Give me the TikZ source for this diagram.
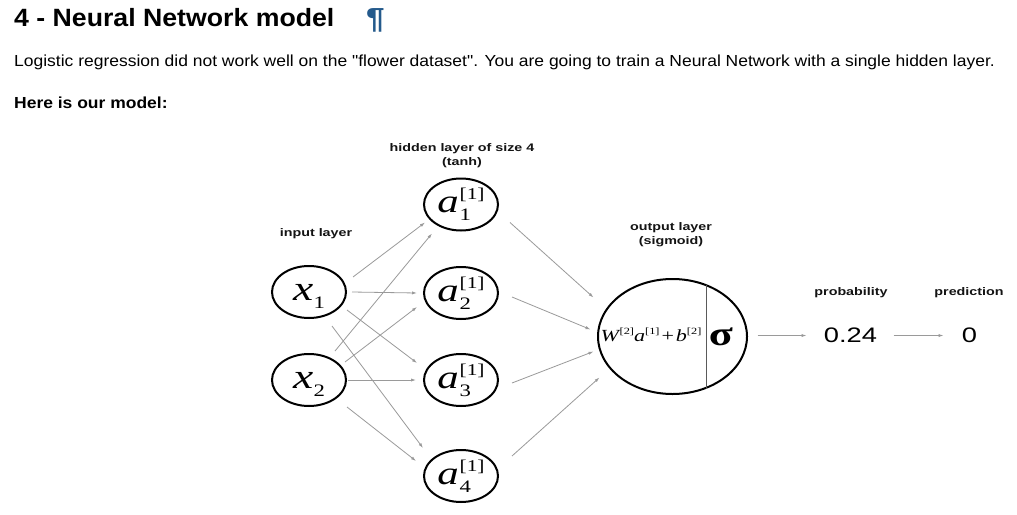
\documentclass[tikz,border=0pt]{standalone}
\usepackage{fontspec}
\setmainfont{Liberation Sans}
\newfontfamily\tms{Liberation Serif}
\usepackage{graphicx}
\usetikzlibrary{shapes.geometric,arrows.meta,calc}
\definecolor{pilcrow}{HTML}{245A8C}
\definecolor{arrowgray}{HTML}{9A9A9A}
\definecolor{divgray}{HTML}{5A5A5A}
\newcommand\dstretch[1]{\scalebox{1.3}[1]{#1}}
\newcommand\tstretch[1]{\scalebox{1.092}[1]{#1}}
\newsavebox\nsupbox
\newcommand\nsym[3]{%
  \sbox\nsupbox{\tms\fontsize{16.5}{16.5}\selectfont #2}%
  \dstretch{\rule[-10pt]{0pt}{36pt}\tms\fontsize{33}{33}\selectfont\itshape #1\kern0.6pt\upshape\rlap{\fontsize{16.5}{16.5}\selectfont\raisebox{13pt}{#2}}\raisebox{-8pt}{\fontsize{17.5}{17.5}\selectfont\makebox[\wd\nsupbox][l]{#3}}}}
\newcommand\xsym[1]{%
  \dstretch{\rule[-10pt]{0pt}{36pt}\tms\fontsize{35}{35}\selectfont\itshape x\kern0.3pt\upshape\fontsize{17.5}{17.5}\selectfont\raisebox{-8pt}{#1}}}
\newcommand\supsm[1]{\raisebox{6.5pt}{\upshape\fontsize{9.5}{9.5}\selectfont #1}}
\tikzset{
  neuron/.style={ellipse, draw=black, line width=2pt, minimum width=74pt, minimum height=52pt, inner sep=0pt},
  outnode/.style={ellipse, draw=black, line width=2pt, minimum width=149pt, minimum height=115pt, inner sep=0pt},
  conn/.style={draw=arrowgray, line width=0.8pt, -{Latex[length=5pt,width=3.2pt]}},
  divider/.style={draw=divgray, line width=1.4pt},
  lbl/.style={inner sep=0pt, text=black!92, font=\fontsize{11}{14}\selectfont\bfseries, align=center},
  bodytext/.style={anchor=base west, inner sep=0pt, text=black}
}
\begin{document}
\begin{tikzpicture}[x=1pt,y=-1pt]
\useasboundingbox (0,0) rectangle (1017,514);
\fill[white] (0,0) rectangle (1017,514);

% header texts
\node[bodytext, font=\fontsize{25}{25}\selectfont\bfseries] (title) at (14,27) {\scalebox{1.067}[1]{4 - Neural Network model}};
\node[bodytext, text=pilcrow, font=\fontsize{29}{29}\selectfont\bfseries] (pil) at (366,28.5) {\scalebox{1.15}[1]{¶}};
\node[bodytext, font=\fontsize{16}{16}\selectfont] (para) at (14,66) {\tstretch{Logistic regression did not work well on the \textquotedbl flower dataset\textquotedbl. You are going to train a Neural Network with a single hidden layer.}};
\node[bodytext, font=\fontsize{16}{16}\selectfont\bfseries] (here) at (14,108.5) {\tstretch{Here is our model:}};

% layer labels
\node[lbl] (lin) at (316,234) {\dstretch{input layer}};
\node[lbl] (lhid) at (462,156) {\dstretch{hidden layer of size 4}\\\dstretch{(tanh)}};
\node[lbl] (lout) at (671,235) {\dstretch{output layer}\\\dstretch{(sigmoid)}};
\node[lbl] (lprob) at (851,293) {\dstretch{probability}};
\node[lbl] (lpred) at (969,293) {\dstretch{prediction}};

% neurons
\node[neuron] (x1) at (309,292) {\xsym{1}};
\node[neuron] (x2) at (309,380) {\xsym{2}};
\node[neuron] (a1) at (461,204.5) {\nsym{a}{[1]}{1}};
\node[neuron] (a2) at (461,293) {\nsym{a}{[1]}{2}};
\node[neuron] (a3) at (461,380) {\nsym{a}{[1]}{3}};
\node[neuron] (a4) at (461,476) {\nsym{a}{[1]}{4}};
\node[outnode] (out) at (672.5,336.5) {};
\draw[divider] ($(out)+(34,-52)$) -- ($(out)+(34,52)$);
\node[inner sep=0pt] (wexpr) at (651,335) {\dstretch{\tms\fontsize{17}{17}\selectfont\itshape W\kern0.5pt\supsm{[2]}a\supsm{[1]}\upshape\kern1.5pt+\kern1.5pt\itshape b\supsm{[2]}}};
\node[inner sep=0pt] (sig) at (721,336.5) {\dstretch{\tms\fontsize{34}{34}\selectfont\bfseries σ}};
\node[inner sep=0pt] (prob) at (850.5,335.5) {\dstretch{\fontsize{21}{21}\selectfont 0.24}};
\node[inner sep=0pt] (pred) at (969.5,335.5) {\dstretch{\fontsize{21}{21}\selectfont 0}};

% input -> hidden
\draw[conn] ($(x1)+(44,-15)$) -- ($(a1)+(-36,18)$);
\draw[conn] ($(x1)+(43,0)$) -- ($(a2)+(-44,0)$);
\draw[conn] ($(x1)+(38,18)$) -- ($(a3)+(-44,-17)$);
\draw[conn] ($(x1)+(23,34)$) -- ($(a4)+(-38,-28)$);
\draw[conn] ($(x2)+(26,-29)$) -- ($(a1)+(-29,29)$);
\draw[conn] ($(x2)+(36,-18)$) -- ($(a2)+(-44,14)$);
\draw[conn] ($(x2)+(39,0)$) -- ($(a3)+(-45,0)$);
\draw[conn] ($(x2)+(38,27)$) -- ($(a4)+(-45,-15)$);
% hidden -> output
\draw[conn] ($(a1)+(49,18)$) -- ($(out)+(-79,-39)$);
\draw[conn] ($(a2)+(51,4)$) -- ($(out)+(-82,-7)$);
\draw[conn] ($(a3)+(51,3)$) -- ($(out)+(-79,15)$);
\draw[conn] ($(a4)+(51,-20)$) -- ($(out)+(-73,41)$);
% output -> probability -> prediction
\draw[conn] ($(out)+(85,-1)$) -- ($(prob)+(-44,0)$);
\draw[conn] ($(prob)+(43,0)$) -- ($(pred)+(-26,0)$);
\end{tikzpicture}
\end{document}
